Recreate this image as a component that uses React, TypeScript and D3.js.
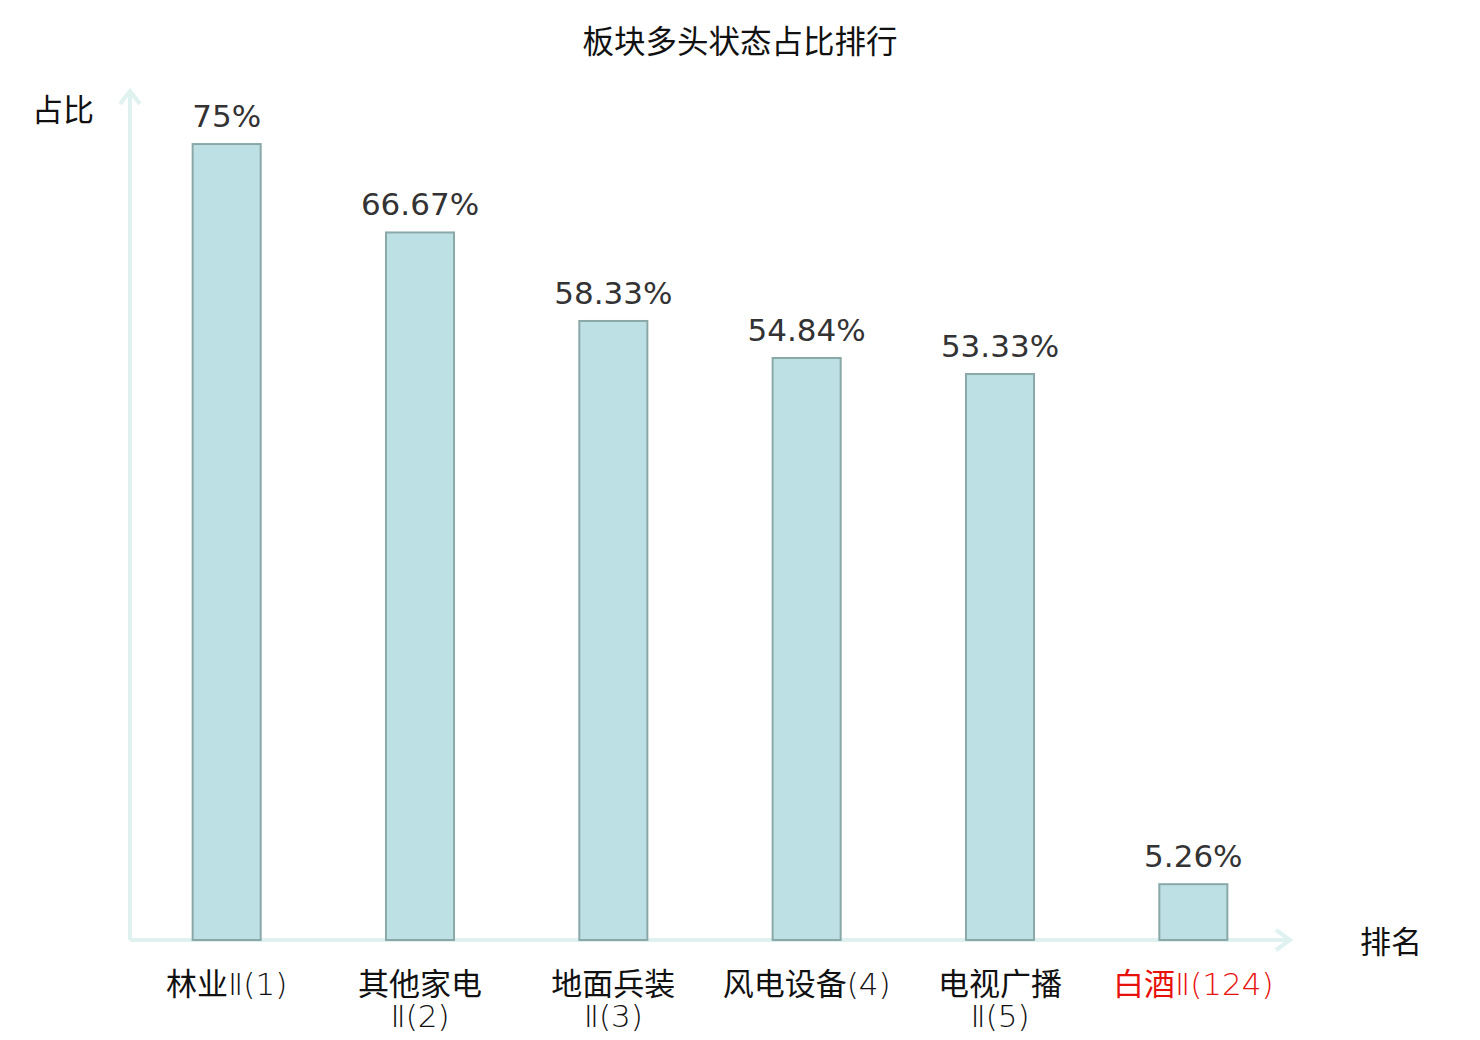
import React from "react";
import * as d3 from "d3";

const categories = ["林业Ⅱ(1)", "其他家电Ⅱ(2)", "地面兵装Ⅱ(3)", "风电设备(4)", "电视广播Ⅱ(5)", "白酒Ⅱ(124)"];
const labelLines = [["林业Ⅱ(1)"], ["其他家电", "Ⅱ(2)"], ["地面兵装", "Ⅱ(3)"], ["风电设备(4)"], ["电视广播", "Ⅱ(5)"], ["白酒Ⅱ(124)"]];
const values = [75, 66.67, 58.33, 54.84, 53.33, 5.26];
const valueLabels = ["75%", "66.67%", "58.33%", "54.84%", "53.33%", "5.26%"];
const highlight = [false, false, false, false, false, true];

const W = 1480;
const H = 1040;
const x0 = 130;
const x1 = 1290;
const y0 = 940;

function splitLine(s: string): [string, string] {
  const m = s.match(/^([\u4e00-\u9fff]*)(.*)$/);
  return m ? [m[1], m[2]] : [s, ""];
}

export default function App() {
  const x = d3.scaleBand<string>().domain(categories).range([x0, x1]).padding(0);
  const y = d3.scaleLinear().domain([0, 80]).range([y0, 91]);
  const barW = x.bandwidth() * 0.352;
  const cjk = '"Noto Sans CJK SC", sans-serif';
  const thin = '"DejaVu Sans", sans-serif';
  const axisColor = "#dff2ef";
  return (
    <div style={{ position: "absolute", left: 0, top: 0 }}>
      <svg width={W} height={H} style={{ display: "block", background: "#fff" }}>
        <text x={740} y={53} textAnchor="middle" fontFamily={cjk} fontSize={31.5} fill="#111">
          板块多头状态占比排行
        </text>
        <line x1={x0} y1={y0} x2={x0} y2={90} stroke={axisColor} strokeWidth={4} />
        <polyline points={`${x0 - 10},${104} ${x0},${91} ${x0 + 10},${104}`} fill="none" stroke={axisColor} strokeWidth={4} />
        <line x1={x0} y1={y0} x2={x1} y2={y0} stroke={axisColor} strokeWidth={4} />
        <polyline points={`${x1 - 14},${y0 - 10} ${x1},${y0} ${x1 - 14},${y0 + 10}`} fill="none" stroke={axisColor} strokeWidth={4} />
        <text x={63} y={121} textAnchor="middle" fontFamily={cjk} fontSize={31} fill="#111">占比</text>
        <text x={1391} y={953} textAnchor="middle" fontFamily={cjk} fontSize={31} fill="#111">排名</text>
        {categories.map((c, i) => {
          const cx = (x(c) as number) + x.bandwidth() / 2;
          const top = y(values[i]);
          return (
            <g key={c}>
              <rect x={cx - barW / 2} y={top} width={barW} height={y0 - top} fill="#bce0e3" stroke="#8aa8a8" strokeWidth={2} />
              <text x={cx} y={top - 17} textAnchor="middle" fontFamily='"DejaVu Sans", sans-serif' fontSize={31} fill="#333">
                {valueLabels[i]}
              </text>
              <text x={cx} y={995} textAnchor="middle" fontSize={31} fill={highlight[i] ? "#e8120c" : "#111"}>
                {labelLines[i].map((ln, j) => {
                  const [a, b] = splitLine(ln);
                  return (
                    <tspan key={j} x={cx} y={995 + j * 32}>
                      {a && <tspan fontFamily={cjk}>{a}</tspan>}
                      {b && <tspan fontFamily={thin} fontWeight={200}>{b}</tspan>}
                    </tspan>
                  );
                })}
              </text>
            </g>
          );
        })}
      </svg>
    </div>
  );
}
